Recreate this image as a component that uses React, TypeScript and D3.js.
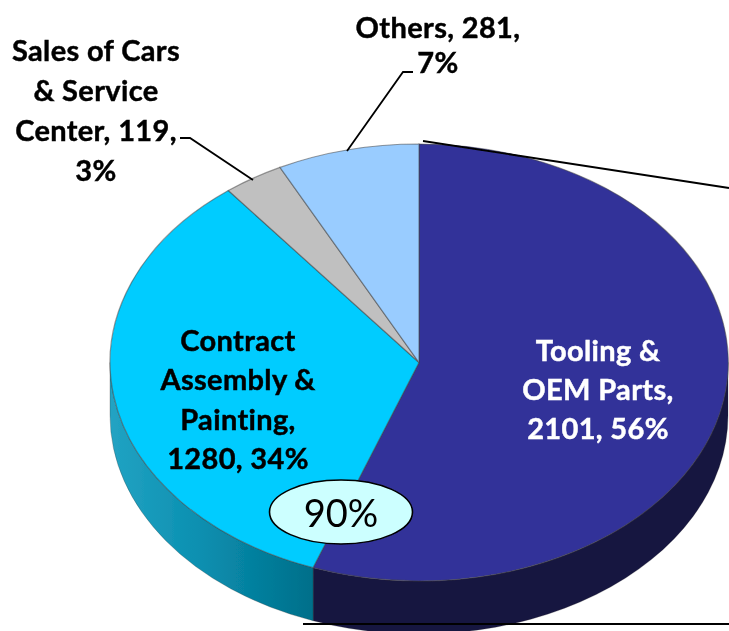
import React from "react";
import * as d3 from "d3";

const categories = ["Tooling & OEM Parts", "Contract Assembly & Painting", "Sales of Cars & Service Center", "Others"];
const values = [2101, 1280, 119, 281];
const topColors = ["#333399", "#00CCFF", "#C0C0C0", "#99CCFF"];
const labelLines = [
  ["Tooling &", "OEM Parts,", "2101, 56%"],
  ["Contract", "Assembly &", "Painting,", "1280, 34%"],
  ["Sales of Cars", "& Service", "Center, 119,", "3%"],
  ["Others, 281,", "7%"],
];
const labelColors = ["#ffffff", "#000000", "#000000", "#000000"];
const calloutText = "90%";

const cx = 419, cy = 362.5, rx = 309, ry = 218.5, depth = 53;
const FONT = "Lato, Carlito, 'Open Sans', sans-serif";

const pieGen = d3.pie<number>().sort(null).startAngle(0).endAngle(2 * Math.PI);
const arcs = pieGen(values);
const arcGen = d3.arc<d3.PieArcDatum<number>>().innerRadius(0).outerRadius(1);

const px = d3.scaleLinear().domain([-1, 1]).range([cx - rx, cx + rx]);
const py = d3.scaleLinear().domain([-1, 1]).range([cy - ry, cy + ry]);

function wallPath(a0: number, a1: number): string {
  const s = Math.max(a0, Math.PI / 2);
  const e = Math.min(a1, 1.5 * Math.PI);
  if (e <= s) return "";
  const pt = (a: number, d: number) => [px(Math.sin(a)), py(-Math.cos(a)) + d];
  const [x0, y0] = pt(s, 0);
  const [x1, y1] = pt(e, 0);
  const [x2, y2] = pt(e, depth);
  const [x3, y3] = pt(s, depth);
  return `M${x0},${y0}A${rx},${ry} 0 0 1 ${x1},${y1}L${x2},${y2}A${rx},${ry} 0 0 0 ${x3},${y3}Z`;
}

const labelPos = [
  { x: 598, y: 361, dy: 39 },
  { x: 238, y: 351, dy: 39.3 },
  { x: 96, y: 61, dy: 40 },
  { x: 438, y: 38, dy: 35 },
];

const wallFills = ["#17153F", "url(#wallCyan)"];

export default function App() {
  return (
    <svg width={729} height={631} style={{ position: "absolute", left: 0, top: 0, background: "#fff" }}>
      <defs>
        <linearGradient id="wallCyan" gradientUnits="userSpaceOnUse" x1={110} x2={313} y1={0} y2={0}>
          <stop offset="0" stopColor="#22A3C3" />
          <stop offset="0.45" stopColor="#0A8FB0" />
          <stop offset="1" stopColor="#006F8A" />
        </linearGradient>
        <filter id="soft" x="0" y="0" width="100%" height="100%">
          <feGaussianBlur stdDeviation="0.45" />
        </filter>
      </defs>
      <g filter="url(#soft)">
        {arcs.slice(0, 2).map((a, i) => (
          <path key={categories[i]} d={wallPath(a.startAngle, a.endAngle)} fill={wallFills[i]} stroke="#33333355" strokeWidth={0.8} />
        ))}
        <g transform={`translate(${cx},${cy}) scale(${rx},${ry})`}>
          {arcs.map((a, i) => (
            <path key={categories[i]} d={arcGen(a) ?? ""} fill={topColors[i]} stroke="#44444488" strokeWidth={1.2} vectorEffect="non-scaling-stroke" />
          ))}
        </g>
        <g fill="none" stroke="#000" strokeWidth={1.8}>
          <polyline points="347,151 403,72 413,72" />
          <polyline points="253,180 190,138 180,138" />
          <line x1={423} y1={141} x2={729} y2={188} />
          <line x1={303} y1={624} x2={729} y2={624} />
        </g>
        <g fontFamily={FONT} fontWeight={700} fontSize={29} letterSpacing={0.35} textAnchor="middle">
          {labelLines.map((lines, i) => (
            <text key={categories[i]} fill={labelColors[i]} stroke={labelColors[i]} strokeWidth={0.45}>
              {lines.map((t, j) => (
                <tspan key={t} x={labelPos[i].x} y={labelPos[i].y + j * labelPos[i].dy}>{t}</tspan>
              ))}
            </text>
          ))}
        </g>
        <ellipse cx={341} cy={512} rx={71.5} ry={32} fill="#CCFFFF" stroke="#000" strokeWidth={1.6} />
        <text x={341} y={527} textAnchor="middle" fontFamily={FONT} fontSize={38} fill="#000">{calloutText}</text>
      </g>
    </svg>
  );
}
